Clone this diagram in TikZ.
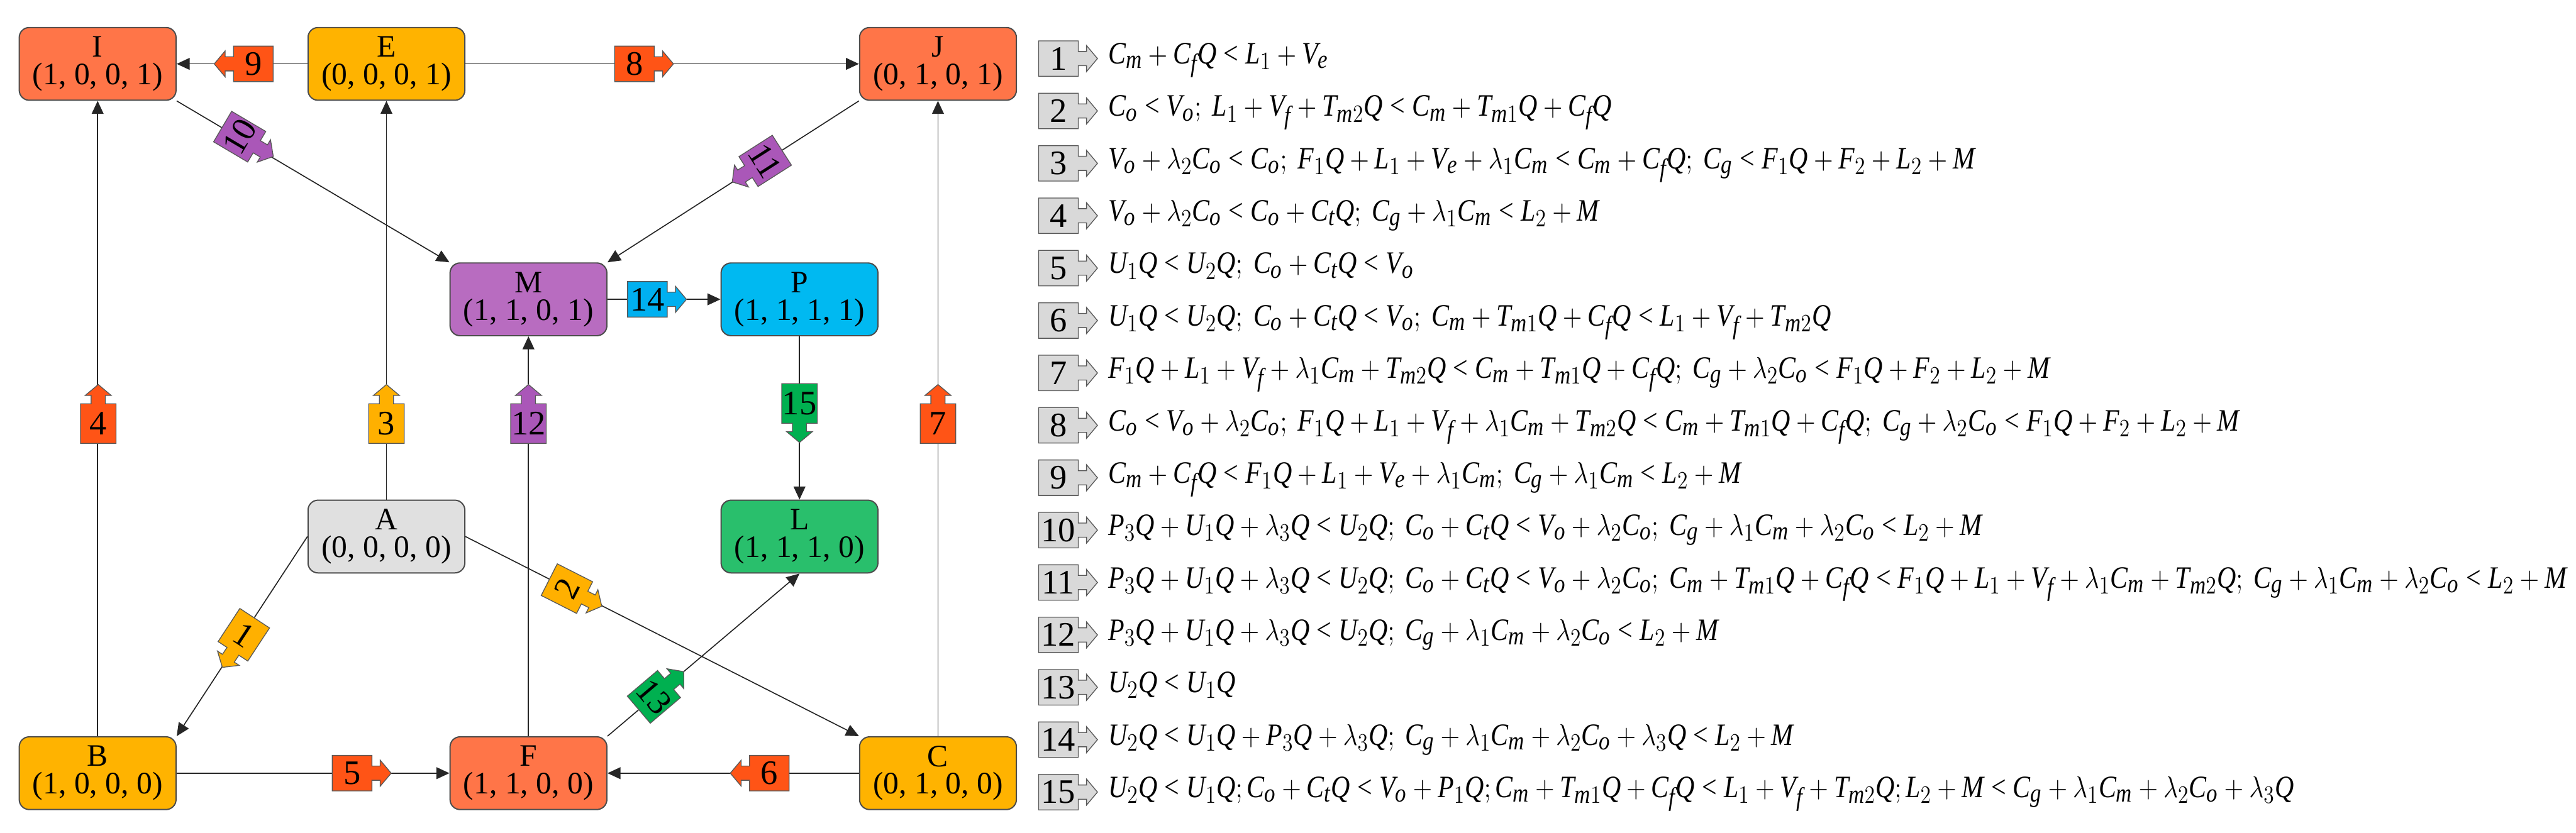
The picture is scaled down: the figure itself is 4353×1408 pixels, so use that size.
\documentclass[tikz,border=0pt]{standalone}
\usepackage{amsmath}
\usepackage{fontspec}
\setmainfont{Liberation Serif}
\usepackage[italic]{mathastext}
\usepackage{graphicx}
\usetikzlibrary{arrows.meta}

\definecolor{nodeRed}{HTML}{FF7548}
\definecolor{nodeAmber}{HTML}{FFB300}
\definecolor{nodeGray}{HTML}{E0E0E0}
\definecolor{nodePurple}{HTML}{B86CC0}
\definecolor{nodeBlue}{HTML}{00B9F1}
\definecolor{nodeGreen}{HTML}{29BF6C}
\definecolor{tagRed}{HTML}{FF5416}
\definecolor{tagAmber}{HTML}{FFB000}
\definecolor{tagPurple}{HTML}{AA57B8}
\definecolor{tagBlue}{HTML}{00B0F0}
\definecolor{tagGreen}{HTML}{00B050}
\definecolor{tagGray}{HTML}{D9D9D9}

% box with an arrow: position, arrow angle, text angle, colour, text, name
\newcommand{\tagshape}[6]{%
  \filldraw[fill=#4,draw=black!65,line width=0.4pt,shift={#1},rotate=#2]
    (-33.5,-30)--(33.5,-30)--(33.5,-12)--(47.5,-12)--(47.5,-22)--(66,0)
    --(47.5,22)--(47.5,12)--(33.5,12)--(33.5,30)--(-33.5,30)--cycle;
  \node[tagtext,rotate=#3] (#6) at #1 {#5};}

\begin{document}
\begin{tikzpicture}[x=0.1mm,y=-0.1mm,
  state/.style={draw=black!70,line width=0.6pt,rounded corners=1.7mm,minimum width=26.5mm,
    minimum height=12.3mm,inner sep=0pt,align=center,font=\fontsize{15}{13.3}\selectfont},
  link/.style={-{Triangle[length=2.2mm,width=2mm]},line width=0.5pt,black!85},
  tagtext/.style={inner sep=0pt,font=\fontsize{16.5}{16.5}\selectfont},
  eqtext/.style={inner sep=0pt,anchor=base west,font=\fontsize{15}{17}\selectfont}]
\useasboundingbox (0,0) rectangle (4353,1408);

\node[state,fill=nodeRed] (I) at (165,108) {I\\(1, 0, 0, 1)};
\node[state,fill=nodeAmber] (E) at (653,108) {E\\(0, 0, 0, 1)};
\node[state,fill=nodeRed] (J) at (1585,108) {J\\(0, 1, 0, 1)};
\node[state,fill=nodePurple] (M) at (893,506) {M\\(1, 1, 0, 1)};
\node[state,fill=nodeBlue] (P) at (1351,506) {P\\(1, 1, 1, 1)};
\node[state,fill=nodeGray] (A) at (653,907) {A\\(0, 0, 0, 0)};
\node[state,fill=nodeGreen] (L) at (1351,907) {L\\(1, 1, 1, 0)};
\node[state,fill=nodeAmber] (B) at (165,1307) {B\\(1, 0, 0, 0)};
\node[state,fill=nodeRed] (F) at (893,1307) {F\\(1, 1, 0, 0)};
\node[state,fill=nodeAmber] (C) at (1585,1307) {C\\(0, 1, 0, 0)};

\draw[link] (E) -- (I);
\draw[link] (E) -- (J);
\draw[link] (I.south east) -- (M.north west);
\draw[link] (J.south west) -- (M.north east);
\draw[link] (B) -- (I);
\draw[link] (A) -- (E);
\draw[link] (F) -- (M);
\draw[link] (C) -- (J);
\draw[link] (M) -- (P);
\draw[link] (P) -- (L);
\draw[link] (A.west) -- (B.north east);
\draw[link] (A.east) -- (C.north west);
\draw[link] (F.north east) -- (L.south);
\draw[link] (B) -- (F);
\draw[link] (C) -- (F);

\tagshape{(428,108)}{180}{0}{tagRed}{9}{e9}
\tagshape{(1072,108)}{0}{0}{tagRed}{8}{e8}
\tagshape{(405,231)}{-30.6}{59.4}{tagPurple}{10}{e10}
\tagshape{(1293,272)}{-147.4}{-57.4}{tagPurple}{11}{e11}
\foreach \x/\n/\c in {166/4/tagRed,653/3/tagAmber,893/12/tagPurple,1585/7/tagRed}
  {\tagshape{(\x,716)}{90}{0}{\c}{\n}{e\n}}
\tagshape{(1094,506)}{0}{0}{tagBlue}{14}{e14}
\tagshape{(1351,682)}{-90}{0}{tagGreen}{15}{e15}
\tagshape{(412,1073)}{-123.3}{-33.3}{tagAmber}{1}{e1}
\tagshape{(958,995)}{-26.9}{63.1}{tagAmber}{2}{e2}
\tagshape{(1105,1178)}{40.3}{-49.7}{tagGreen}{13}{e13}
\tagshape{(595,1307)}{0}{0}{tagRed}{5}{e5}
\tagshape{(1300,1307)}{180}{0}{tagRed}{6}{e6}

\foreach \k/\eq in {
  1/{C_m+C_fQ<L_1+V_e},
  2/{C_o<V_o;\ L_1+V_f+T_{m2}Q<C_m+T_{m1}Q+C_fQ},
  3/{V_o+\lambda_2C_o<C_o;\ F_1Q+L_1+V_e+\lambda_1C_m<C_m+C_fQ;\ C_g<F_1Q+F_2+L_2+M},
  4/{V_o+\lambda_2C_o<C_o+C_tQ;\ C_g+\lambda_1C_m<L_2+M},
  5/{U_1Q<U_2Q;\ C_o+C_tQ<V_o},
  6/{U_1Q<U_2Q;\ C_o+C_tQ<V_o;\ C_m+T_{m1}Q+C_fQ<L_1+V_f+T_{m2}Q},
  7/{F_1Q+L_1+V_f+\lambda_1C_m+T_{m2}Q<C_m+T_{m1}Q+C_fQ;\ C_g+\lambda_2C_o<F_1Q+F_2+L_2+M},
  8/{C_o<V_o+\lambda_2C_o;\ F_1Q+L_1+V_f+\lambda_1C_m+T_{m2}Q<C_m+T_{m1}Q+C_fQ;\ C_g+\lambda_2C_o<F_1Q+F_2+L_2+M},
  9/{C_m+C_fQ<F_1Q+L_1+V_e+\lambda_1C_m;\ C_g+\lambda_1C_m<L_2+M},
  10/{P_3Q+U_1Q+\lambda_3Q<U_2Q;\ C_o+C_tQ<V_o+\lambda_2C_o;\ C_g+\lambda_1C_m+\lambda_2C_o<L_2+M},
  11/{P_3Q+U_1Q+\lambda_3Q<U_2Q;\ C_o+C_tQ<V_o+\lambda_2C_o;\ C_m+T_{m1}Q+C_fQ<F_1Q+L_1+V_f+\lambda_1C_m+T_{m2}Q;\ C_g+\lambda_1C_m+\lambda_2C_o<L_2+M},
  12/{P_3Q+U_1Q+\lambda_3Q<U_2Q;\ C_g+\lambda_1C_m+\lambda_2C_o<L_2+M},
  13/{U_2Q<U_1Q},
  14/{U_2Q<U_1Q+P_3Q+\lambda_3Q;\ C_g+\lambda_1C_m+\lambda_2C_o+\lambda_3Q<L_2+M},
  15/{U_2Q<U_1Q;C_o+C_tQ<V_o+P_1Q;C_m+T_{m1}Q+C_fQ<L_1+V_f+T_{m2}Q;L_2+M<C_g+\lambda_1C_m+\lambda_2C_o+\lambda_3Q}}{
  \pgfmathsetmacro\yy{99+88.57*(\k-1)}
  \tagshape{(1788.5,\yy)}{0}{0}{tagGray}{\k}{r\k}
  \node[eqtext] (q\k) at (1872,\yy+9) {\scalebox{0.845}[1]{$\eq$}};
}
\end{tikzpicture}
\end{document}
